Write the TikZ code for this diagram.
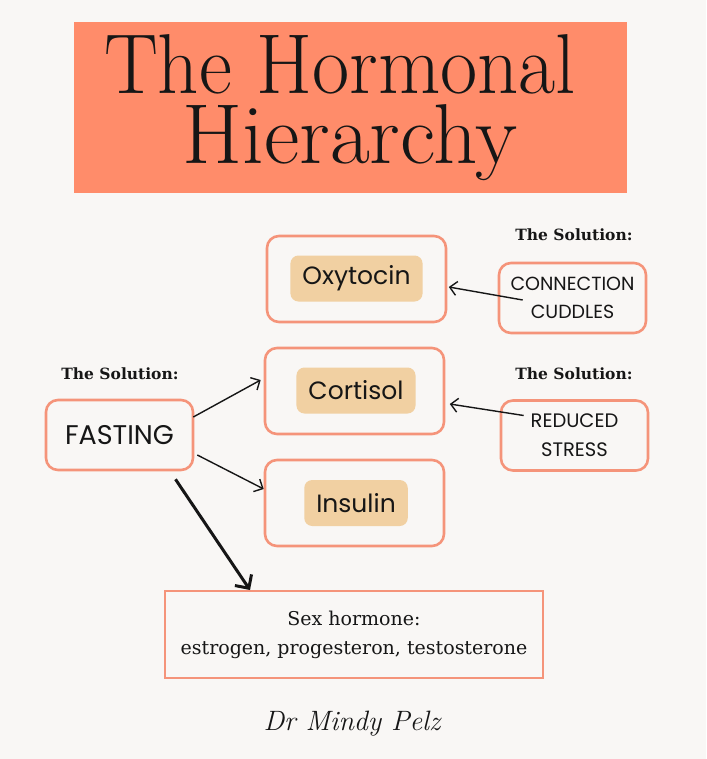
\documentclass[tikz,border=0pt]{standalone}
\usepackage{fontspec}
\usepackage{tikz}
\usetikzlibrary{calc,arrows.meta,positioning}
\newfontfamily\boxfont{Poppins}
\newfontfamily\slabfont{DejaVu Serif}
\definecolor{paper}{RGB}{249,247,245}
\definecolor{salmon}{RGB}{255,140,106}
\definecolor{boxline}{RGB}{245,148,122}
\definecolor{tan}{RGB}{241,208,162}
\definecolor{ink}{RGB}{22,22,22}

\begin{document}
\begin{tikzpicture}[x=1pt,y=-1pt,
    box/.style={draw=boxline,line width=2.6pt,rounded corners=12pt,minimum width=147pt,minimum height=70pt,align=center,text=ink},
    hormone/.style={box,minimum width=179pt,minimum height=86pt},
    tag/.style={fill=tan,rounded corners=8pt,minimum height=46pt,inner xsep=12pt,text=ink,font=\boxfont\fontsize{25}{28}\selectfont},
    solution/.style={text=ink,font=\slabfont\bfseries\fontsize{15.5}{18}\selectfont},
    title/.style={anchor=north,inner sep=0pt,align=center,text=ink,font=\fontsize{85}{70}\selectfont},
    link/.style={draw=ink,line width=1.4pt,-{Straight Barb[length=7pt,width=14pt]}}]
  \fill[paper] (0,0) rectangle (706,759);

  % title block
  \fill[salmon] (74,22) rectangle (627,193);
  \node[title] (title) at (345,34)
    {\scalebox{0.95}[1]{The Hormonal}\hspace*{10pt}\\\hspace*{10pt}\scalebox{1.02}[1]{Hierarchy}};

  % hormones
  \node[hormone] (oxy) at (356.5,279) {};
  \node[tag] (oxytag) at (356.5,278.5) {Oxytocin};
  \node[hormone] (cort) at (354.5,391) {};
  \node[tag] (corttag) at (356,390.5) {Cortisol};
  \node[hormone] (ins) at (354.5,503) {};
  \node[tag] (instag) at (356,503) {Insulin};

  % solutions
  \node[box,font=\boxfont\fontsize{27}{28}\selectfont] (fasting) at (119.5,435) {FASTING};
  \node[box,font=\boxfont\fontsize{19}{28}\selectfont] (cuddles) at (572.5,298) {CONNECTION\\CUDDLES};
  \node[box,font=\boxfont\fontsize{19.5}{29}\selectfont] (stress) at (574.5,435.5) {REDUCED\\STRESS};
  \node[solution] (solA) at (574,235) {The Solution:};
  \node[solution] (solB) at (574,374) {The Solution:};
  \node[solution] (solC) at (120,374) {The Solution:};

  \node[draw=boxline,line width=2pt,minimum width=378pt,minimum height=87pt,align=center,text=ink,
        font=\slabfont\fontsize{19}{29}\selectfont] (sex) at (354,634.5)
        {Sex hormone:\\estrogen, progesteron, testosterone};

  \node[text=ink,font=\itshape\fontsize{28}{30}\selectfont] (sign) at (352,724) {Dr Mindy Pelz};

  % arrows
  \coordinate (cudtail) at ($(cuddles.west)+(25,2)$);
  \coordinate (strtail) at ($(stress.west)+(24,-20)$);
  \draw[link] (cudtail) -- ($(oxy.east)+(1.5,8)$);
  \draw[link] (strtail) -- ($(cort.east)+(4.5,13)$);
  \draw[link] ($(fasting.east)+(-1,-18)$) -- ($(cort.west)+(-3,-11)$);
  \draw[link] ($(fasting.east)+(3,20)$) -- ($(ins.west)+(0,-14)$);
  \draw[draw=ink,line width=3pt,-{Straight Barb[length=10pt,width=20pt]}]
    ($(fasting.south)+(56,8)$) -- ($(sex.north)+(-104,0)$);
\end{tikzpicture}
\end{document}
